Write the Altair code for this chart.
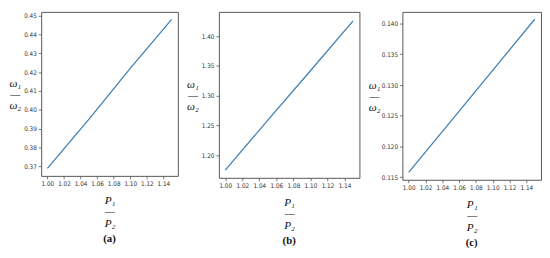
import altair as alt
import pandas as pd

# Data
x_ratio = [1.00, 1.05, 1.10, 1.15]
omega_a = [0.369, 0.395, 0.422, 0.448]
omega_b = [1.175, 1.259, 1.342, 1.426]
omega_c = [0.1158, 0.1241, 0.1324, 0.1407]

x_ticks = [1.00, 1.02, 1.04, 1.06, 1.08, 1.10, 1.12, 1.14]
ticks_a = [0.37, 0.38, 0.39, 0.40, 0.41, 0.42, 0.43, 0.44, 0.45]
ticks_b = [1.20, 1.25, 1.30, 1.35, 1.40]
ticks_c = [0.115, 0.120, 0.125, 0.130, 0.135, 0.140]

captions = ["(a)", "(b)", "(c)"]

LINE = "#3f80b5"
FRAME = "#555555"


def panel(yvals, yticks, ydomain, yfmt, caption, width, height, title_x):
    df = pd.DataFrame({"x": x_ratio, "y": yvals})
    return (
        alt.Chart(df, title=alt.Title(caption, orient="bottom", font="Liberation Serif",
                                      fontSize=11, fontWeight="bold", color="#111", offset=5))
        .mark_line(color=LINE, strokeWidth=1.3)
        .encode(
            x=alt.X("x:Q",
                    scale=alt.Scale(domain=[0.9925, 1.1575], nice=False, zero=False),
                    axis=alt.Axis(values=x_ticks, format=".2f",
                                  title=["P₁", "—", "P₂"], titlePadding=8,
                                  titleLineHeight=11.5)),
            y=alt.Y("y:Q",
                    scale=alt.Scale(domain=ydomain, nice=False, zero=False),
                    axis=alt.Axis(values=yticks, format=yfmt,
                                  title=["ω₁", "—", "ω₂"], titleAngle=0,
                                  titleAlign="center", titleBaseline="middle",
                                  titleX=title_x, titleY=height / 2 - 11,
                                  titleLineHeight=11.5)),
        )
        .properties(width=width, height=height)
    )


a = panel(omega_a, ticks_a, [0.365, 0.452], ".2f", captions[0], 140, 168, -27)
b = panel(omega_b, ticks_b, [1.162, 1.441], ".2f", captions[1], 144, 170, -27)
c = panel(omega_c, ticks_c, [0.1146, 0.1419], ".3f", captions[2], 142, 172, -29)

chart = (
    alt.hconcat(a, b, c, spacing=7)
    .properties(padding=0)
    .configure_view(stroke=FRAME, strokeWidth=1)
    .configure_axis(
        grid=False, domain=False,
        tickSize=3, tickColor=FRAME, tickWidth=0.8,
        labelFont="DejaVu Sans Condensed, Liberation Sans Narrow, sans-serif",
        labelFontSize=6.5, labelColor="#333",
        labelPadding=2,
        titleFont="Liberation Serif", titleFontStyle="italic", titleFontWeight="normal",
        titleFontSize=11.5, titleColor="#111",
    )
    .configure_axisX(labelAngle=0)
)

chart.save("out.html", embed_options={"renderer": "svg", "actions": False})
